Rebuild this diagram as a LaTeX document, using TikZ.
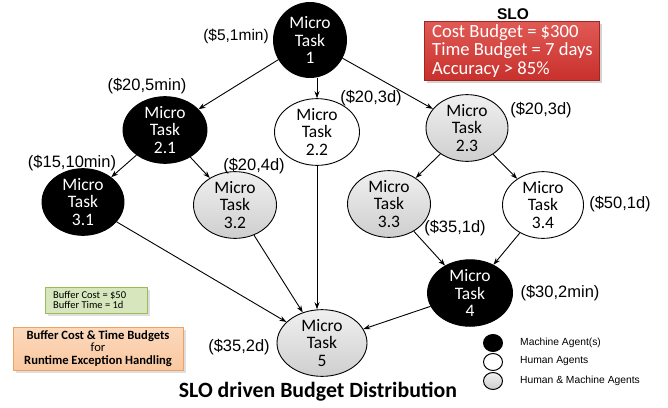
\documentclass[tikz,border=0pt]{standalone}
\usepackage{fontspec}
\setmainfont{Liberation Sans}
\newfontfamily\calfont{Carlito}
\usetikzlibrary{arrows.meta,shapes.geometric,shadows}
\definecolor{sloRed}{HTML}{C8302C}
\definecolor{sloRedTop}{HTML}{E05A55}
\definecolor{bufGreen}{HTML}{D7E6BC}
\definecolor{bufGreenB}{HTML}{9BBB59}
\definecolor{bufOrange}{HTML}{FAC8A0}
\definecolor{bufOrangeB}{HTML}{F0A060}
\tikzset{
  task/.style={ellipse, draw=black, line width=0.9pt, inner sep=0pt, minimum width=#1,
     font=\calfont\fontsize{17.5}{17.5}\selectfont, align=center},
  mach/.style={task=84, fill=black, text=white},
  hum/.style={task=84, fill=white},
  hm/.style={task=84, top color=gray!12, bottom color=gray!38},
  cost/.style={font=\fontsize{16.5}{16.5}\selectfont, inner sep=0pt},
  edge/.style={-{Stealth[length=7pt,width=5pt]}, line width=0.9pt},
  legtext/.style={font=\fontsize{10.3}{10.3}\selectfont, anchor=west, inner sep=0pt},
  legdot/.style={ellipse, draw=black, line width=1pt, minimum width=19pt, minimum height=17pt, inner sep=0pt}
}
\begin{document}
\begin{tikzpicture}[x=1pt,y=-1pt]
\useasboundingbox (0,0) rectangle (668,407);
% nodes
\node[mach, minimum width=73pt, minimum height=75pt] (t1) at (310,40) {Micro\\Task\\1};
\node[mach, minimum width=84pt, minimum height=64pt] (t21) at (165,130) {Micro\\Task\\2.1};
\node[hum, minimum width=85pt, minimum height=66pt] (t22) at (317,132) {Micro\\Task\\2.2};
\node[hm, minimum width=82pt, minimum height=63pt] (t23) at (467,128) {Micro\\Task\\2.3};
\node[mach, minimum width=82pt, minimum height=65pt] (t31) at (83,202) {Micro\\Task\\3.1};
\node[hm, minimum width=83pt, minimum height=64pt] (t32) at (235,205) {Micro\\Task\\3.2};
\node[hm, minimum width=83pt, minimum height=63pt] (t33) at (389,204) {Micro\\Task\\3.3};
\node[hum, minimum width=81pt, minimum height=64pt] (t34) at (543,205) {Micro\\Task\\3.4};
\node[mach, minimum width=85pt, minimum height=66pt] (t4) at (470,293) {Micro\\Task\\4};
\node[hm, minimum width=90pt, minimum height=66pt] (t5) at (322,343) {Micro\\Task\\5};
% cost labels
\node[cost, font=\fontsize{15.5}{15.5}\selectfont] (c1) at (236,36) {(\$5,1min)};
\node[cost] (c21) at (147,86) {(\$20,5min)};
\node[cost] (c22) at (371,98) {(\$20,3d)};
\node[cost] (c23) at (541,110) {(\$20,3d)};
\node[cost] (c31) at (72,163) {(\$15,10min)};
\node[cost] (c32) at (254,166) {(\$20,4d)};
\node[cost] (c33) at (455,228) {(\$35,1d)};
\node[cost] (c34) at (620,204) {(\$50,1d)};
\node[cost] (c4) at (560,293) {(\$30,2min)};
\node[cost] (c5) at (239,347) {(\$35,2d)};
% edges
\draw[edge] (t1) -- (t21);
\draw[edge] (t1.south -| t22.north) -- (t22.north);
\draw[edge] (t1) -- (t23);
\draw[edge] (t21) -- (t31);
\draw[edge] (t21) -- (t32);
\draw[edge] (t23) -- (t33);
\draw[edge] (t23) -- (t34);
\draw[edge] (t33) -- (t4);
\draw[edge] (t34) -- (t4);
\draw[edge] (t31) -- (t5);
\draw[edge] (t32) -- (t5);
\draw[edge] (t22.south) -- (t22.south |- t5.north);
\draw[edge] (t4) -- (t5);
% SLO box
\node[font=\bfseries\fontsize{15.5}{15.5}\selectfont, inner sep=0pt] (slot) at (513,14) {SLO};
\node[draw=sloRed!80!black, top color=sloRedTop, bottom color=sloRed, drop shadow={opacity=0.35},
      minimum width=175pt, minimum height=59pt, inner sep=0pt] (slo) at (512,51) {};
\node[text=white, font=\calfont\fontsize{18.6}{18.5}\selectfont, align=left, anchor=west, inner sep=0pt]
      (slotext) at (432,51) {Cost Budget = \$300\\Time Budget = 7 days\\Accuracy > 85\%};
% buffer boxes
\node[draw=bufGreenB, fill=bufGreen, drop shadow={opacity=0.25}, minimum width=102pt, minimum height=26pt,
      inner sep=0pt] (buf) at (96,300) {};
\node[font=\calfont\fontsize{10.5}{10.5}\selectfont, align=left, anchor=west, inner sep=0pt] (buft) at (53,300)
      {Buffer Cost = \$50\\Buffer Time = 1d};
\node[draw=bufOrangeB, top color=bufOrange!70, bottom color=bufOrange, drop shadow={opacity=0.25},
      minimum width=170pt, minimum height=43pt, font=\calfont\bfseries\fontsize{12.6}{12.6}\selectfont,
      align=center, inner sep=0pt] (exc) at (98,348.5)
      {Buffer Cost \& Time Budgets\\{\mdseries for}\\Runtime Exception Handling};
% legend
\node[legdot, fill=black] (lm) at (493,343) {};
\node[legdot, fill=white] (lh) at (493,362) {};
\node[legdot, top color=gray!10, bottom color=gray!40] (lhm) at (493,381) {};
\node[legtext] (lmt) at (520,343) {Machine Agent(s)};
\node[legtext] (lht) at (520,361) {Human Agents};
\node[legtext] (lhmt) at (520,381) {Human \& Machine Agents};
% title
\node[font=\calfont\bfseries\fontsize{21.8}{21.8}\selectfont, inner sep=0pt] (title) at (318,392) {SLO driven Budget Distribution};
\end{tikzpicture}
\end{document}
